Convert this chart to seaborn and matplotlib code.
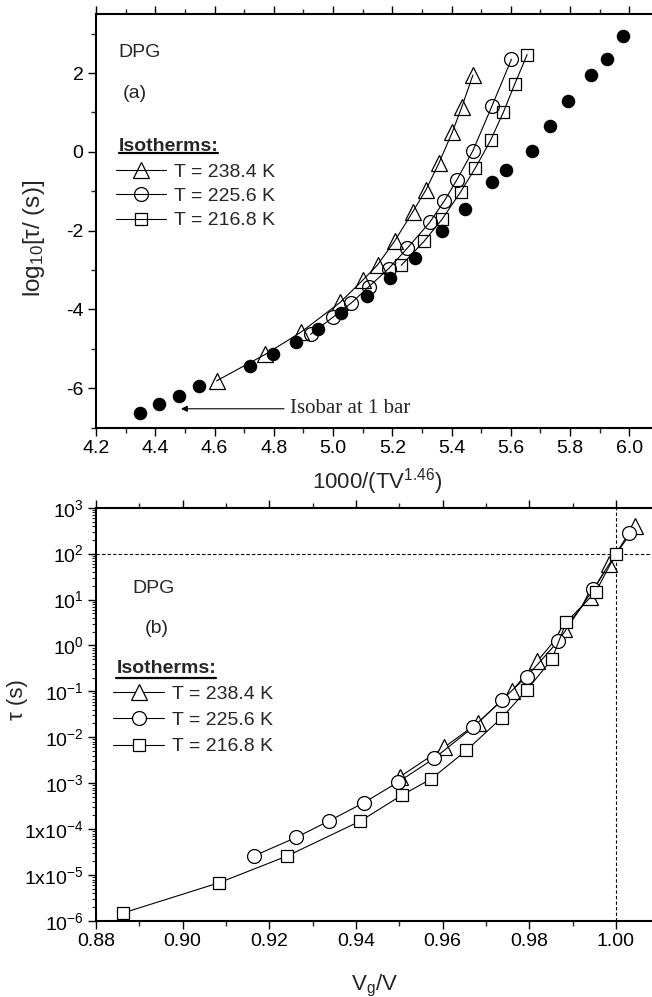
import matplotlib
matplotlib.use("Agg")
import matplotlib.pyplot as plt
import matplotlib.ticker as mticker
import seaborn as sns

# ---- panel (a): log10 tau vs 1000/(T V^1.46) ----
isobar_x = [4.349, 4.414, 4.479, 4.548, 4.719, 4.799, 4.874, 4.950, 5.027, 5.115,
            5.192, 5.275, 5.368, 5.446, 5.536, 5.585, 5.671, 5.731, 5.793, 5.869,
            5.925, 5.980]
isobar_y = [-6.62, -6.41, -6.19, -5.93, -5.44, -5.14, -4.83, -4.50, -4.10, -3.66,
            -3.19, -2.70, -2.01, -1.46, -0.77, -0.46, 0.03, 0.65, 1.29, 1.95,
            2.37, 2.94]

a_238_x = [4.607, 4.771, 4.891, 5.024, 5.101, 5.150, 5.209, 5.269, 5.313, 5.357,
           5.403, 5.434, 5.472]
a_238_y = [-5.81, -5.14, -4.58, -3.82, -3.25, -2.87, -2.25, -1.52, -0.97, -0.29,
           0.51, 1.13, 1.95]
a_225_x = [4.924, 4.999, 5.062, 5.121, 5.188, 5.251, 5.326, 5.375, 5.417, 5.472,
           5.536, 5.602]
a_225_y = [-4.63, -4.20, -3.83, -3.42, -2.96, -2.44, -1.79, -1.25, -0.72, 0.03,
           1.16, 2.35]
a_216_x = [5.230, 5.307, 5.368, 5.431, 5.480, 5.532, 5.575, 5.613, 5.655]
a_216_y = [-2.88, -2.27, -1.71, -1.01, -0.41, 0.30, 1.01, 1.72, 2.47]

# ---- panel (b): tau vs Vg/V ----
b_238_x = [0.9502, 0.9603, 0.9682, 0.9759, 0.9818, 0.9881, 0.9939, 0.9984, 1.0045]
b_238_y = [1.4e-3, 6.0e-3, 2.1e-2, 0.10, 0.45, 2.3, 11.5, 60, 390]
b_225_x = [0.9164, 0.9262, 0.9337, 0.9419, 0.9498, 0.9581, 0.9670, 0.9737, 0.9794,
           0.9867, 0.9948, 1.0030]
b_225_y = [2.6e-5, 6.6e-5, 1.5e-4, 3.8e-4, 1.07e-3, 3.5e-3, 1.65e-2, 6.5e-2, 0.21,
           1.25, 17, 280]
b_216_x = [0.8863, 0.9084, 0.9241, 0.9410, 0.9506, 0.9574, 0.9655, 0.9737, 0.9794,
           0.9852, 0.9885, 0.9953, 1.0000]
b_216_y = [1.5e-6, 6.8e-6, 2.6e-5, 1.5e-4, 5.5e-4, 1.25e-3, 5.2e-3, 2.7e-2, 0.107,
           0.50, 3.2, 14.5, 100]

labels = ["T = 238.4 K", "T = 225.6 K", "T = 216.8 K"]
markers = ["^", "o", "s"]
msizes = [11, 10, 9]

b_ticks = [1e3, 1e2, 1e1, 1e0, 1e-1, 1e-2, 1e-3, 1e-4, 1e-5, 1e-6]
b_ticklabels = [r"10$^{3}$", r"10$^{2}$", r"10$^{1}$", r"10$^{0}$", r"10$^{-1}$",
                r"10$^{-2}$", r"10$^{-3}$", r"1x10$^{-4}$", r"1x10$^{-5}$", r"10$^{-6}$"]

sns.set_theme(style="ticks")
plt.rcParams["font.family"] = ["Liberation Sans", "DejaVu Sans"]
plt.rcParams["mathtext.fontset"] = "custom"
plt.rcParams["mathtext.rm"] = "Liberation Sans"
plt.rcParams["mathtext.it"] = "Liberation Sans:italic"
plt.rcParams["mathtext.bf"] = "Liberation Sans:bold"
plt.rcParams["axes.unicode_minus"] = False

W, H = 652, 997
fig = plt.figure(figsize=(W / 100, H / 100), dpi=100)
ax1 = fig.add_axes([96 / W, 1 - 427.7 / H, 563 / W, 413.7 / H])
ax2 = fig.add_axes([96 / W, 1 - 921 / H, 563.3 / W, 413.3 / H])


def style_axis(ax):
    for side in ["left", "bottom", "top"]:
        ax.spines[side].set_linewidth(1.5)
        ax.spines[side].set_color("black")
    ax.spines["right"].set_visible(False)
    ax.tick_params(axis="both", which="major", direction="out", length=6, width=1,
                   labelsize=14, colors="black", pad=3)
    ax.tick_params(axis="both", which="minor", direction="out", length=3.5, width=1)
    ax.tick_params(axis="x", which="both", top=True, labeltop=False)
    ax.grid(False)
    ax.set_facecolor("white")


def isotherm_legend(ax, handles, x0, ytitle, yline, xline_end, yleg, spacing):
    ax.text(x0, ytitle, "Isotherms:", transform=ax.transAxes, fontsize=14,
            fontweight="bold", va="center", ha="left")
    ax.plot([x0, xline_end], [yline, yline], transform=ax.transAxes, color="black",
            lw=1.6, clip_on=False)
    ax.legend(handles=handles, labels=labels, loc="upper left",
              bbox_to_anchor=(x0 - 0.005, yleg), frameon=False, fontsize=14,
              handlelength=2.6, handletextpad=0.4, labelspacing=spacing,
              borderpad=0, borderaxespad=0)


# ---------- top panel ----------
style_axis(ax1)
handles = []
for xs, ys, m, ms in zip([a_238_x, a_225_x, a_216_x], [a_238_y, a_225_y, a_216_y],
                         markers, msizes):
    sns.lineplot(x=xs, y=ys, ax=ax1, sort=False, estimator=None, color="black",
                 lw=0.8, marker=m, ms=ms, mfc="none", mec="black", mew=0.9)
    handles.append(ax1.lines[-1])
sns.scatterplot(x=isobar_x, y=isobar_y, ax=ax1, color="black", s=95,
                edgecolor="black", linewidth=0, zorder=3)

ax1.set_xlim(4.2, 6.1)
ax1.set_ylim(-7, 3.5)
ax1.xaxis.set_major_locator(mticker.MultipleLocator(0.2))
ax1.xaxis.set_minor_locator(mticker.MultipleLocator(0.1))
ax1.yaxis.set_major_locator(mticker.MultipleLocator(2))
ax1.yaxis.set_minor_locator(mticker.MultipleLocator(1))
ax1.xaxis.set_major_formatter(mticker.FormatStrFormatter("%.1f"))
ax1.set_xlabel(r"1000/(TV$^{1.46}$)", fontsize=16)
ax1.set_ylabel(r"log$_{10}$[τ/ (s)]", fontsize=17.5)
ax1.xaxis.set_label_coords(0.499, -0.093)
ax1.yaxis.set_label_coords(-0.087, 0.458)

ax1.text(0.040, 0.908, "DPG", transform=ax1.transAxes, fontsize=14, va="center")
ax1.text(0.047, 0.809, "(a)", transform=ax1.transAxes, fontsize=14, va="center")
isotherm_legend(ax1, handles, 0.040, 0.679, 0.664, 0.217, 0.640, 0.35)

ax1.annotate("Isobar at 1 bar", xy=(4.487, -6.52), xytext=(4.855, -6.52),
             fontsize=15, family=["Liberation Serif", "DejaVu Serif"], va="center",
             arrowprops=dict(arrowstyle="-|>", lw=0.8, color="black",
                             shrinkA=2, shrinkB=0, mutation_scale=9))

# ---------- bottom panel ----------
style_axis(ax2)
ax2.set_yscale("log")
handles = []
for xs, ys, m, ms in zip([b_238_x, b_225_x, b_216_x], [b_238_y, b_225_y, b_216_y],
                         markers, msizes):
    sns.lineplot(x=xs, y=ys, ax=ax2, sort=False, estimator=None, color="black",
                 lw=0.8, marker=m, ms=ms, mfc="white", mec="black", mew=0.9)
    handles.append(ax2.lines[-1])

ax2.axhline(100, color="black", lw=0.8, ls=(0, (3, 2)), zorder=1)
ax2.axvline(1.0, color="black", lw=0.8, ls=(0, (3, 2)), zorder=1)

ax2.set_xlim(0.88, 1.01)
ax2.set_ylim(1e-6, 1e3)
ax2.xaxis.set_major_locator(mticker.MultipleLocator(0.02))
ax2.xaxis.set_minor_locator(mticker.MultipleLocator(0.01))
ax2.xaxis.set_major_formatter(mticker.FormatStrFormatter("%.2f"))
ax2.yaxis.set_major_locator(mticker.FixedLocator(b_ticks))
ax2.yaxis.set_major_formatter(mticker.FixedFormatter(b_ticklabels))
ax2.yaxis.set_minor_locator(mticker.LogLocator(base=10, subs=range(2, 10), numticks=20))
ax2.yaxis.set_minor_formatter(mticker.NullFormatter())
ax2.tick_params(axis="y", which="minor", length=3, width=0.8)
ax2.set_xlabel(r"V$_{\mathrm{g}}$/V", fontsize=16)
ax2.set_ylabel("τ (s)", fontsize=16)
ax2.xaxis.set_label_coords(0.494, -0.125)
ax2.yaxis.set_label_coords(-0.120, 0.535)

ax2.text(0.064, 0.805, "DPG", transform=ax2.transAxes, fontsize=14, va="center")
ax2.text(0.086, 0.708, "(b)", transform=ax2.transAxes, fontsize=14, va="center")
isotherm_legend(ax2, handles, 0.036, 0.611, 0.587, 0.213, 0.571, 0.45)

fig.savefig("out.png", dpi=100, facecolor="white")
